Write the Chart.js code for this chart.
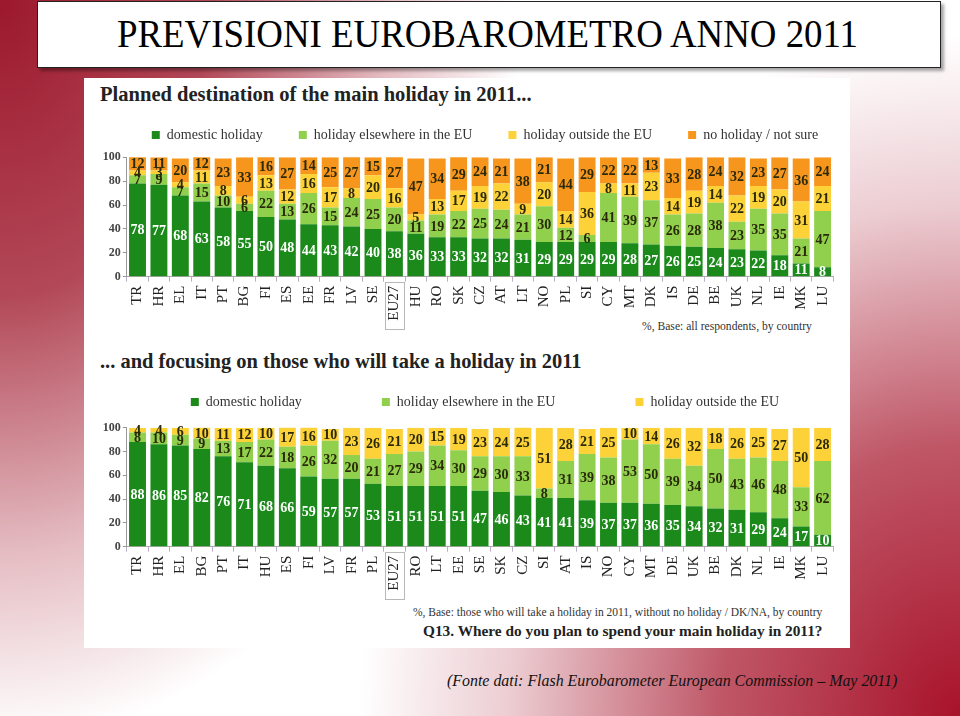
<!DOCTYPE html>
<html><head><meta charset="utf-8">
<script src="https://cdn.jsdelivr.net/npm/chart.js@4.4.0/dist/chart.umd.min.js"></script>
<style>
html,body{margin:0;padding:0;}
body{width:960px;height:716px;position:relative;overflow:hidden;
 background:
  radial-gradient(ellipse 520px 740px at 0 0, rgba(156,24,44,1) 0%, rgba(165,40,58,0.85) 40%, rgba(190,90,105,0.4) 75%, rgba(255,255,255,0) 100%),
  radial-gradient(ellipse 600px 680px at 100% 100%, rgba(168,18,42,1) 0%, rgba(175,45,65,0.8) 40%, rgba(200,110,125,0.35) 75%, rgba(255,255,255,0) 100%),
  #ffffff;}
#titlebox{position:absolute;left:37px;top:1px;width:902px;height:65px;background:#fff;border:1px solid #222;box-shadow:3px 3px 3px rgba(0,0,0,0.35);}
#panel{position:absolute;left:84px;top:78px;width:766px;height:570px;background:#fff;}
.t{position:absolute;white-space:nowrap;line-height:1;font-family:'Liberation Serif',serif;color:#222;}
canvas{position:absolute;}
</style></head>
<body>
<div id="titlebox"></div>
<div class="t" id="mainTitle" style="left:117px;top:13px;font-size:41px;color:#000;transform-origin:0 0;">PREVISIONI EUROBAROMETRO ANNO 2011</div>
<div id="panel"></div>
<div class="t fit" data-x="100" data-yc="96" data-w="432" data-s="19" style="font-weight:bold;">Planned destination of the main holiday in 2011...</div>
<div class="t fit" data-x="642" data-yc="328" data-w="170" data-s="12" style="color:#333;">%, Base: all respondents, by country</div>
<div class="t fit" data-x="100" data-yc="362" data-w="482" data-s="19" style="font-weight:bold;">... and focusing on those who will take a holiday in 2011</div>
<div class="t fit" data-x="413" data-yc="613" data-w="410" data-s="12" style="color:#333;">%, Base: those who will take a holiday in 2011, without no holiday / DK/NA, by country</div>
<div class="t fit" data-x="423" data-yc="632" data-w="400" data-s="12" style="font-weight:bold;">Q13. Where do you plan to spend your main holiday in 2011?</div>
<div class="t fit" data-x="447" data-yc="682" data-w="451" data-s="17" style="font-style:italic;color:#111;">(Fonte dati: Flash Eurobarometer European Commission – May 2011)</div>
<canvas id="c1" width="776" height="250" style="left:97px;top:92px;"></canvas>
<canvas id="c2" width="776" height="305" style="left:97px;top:315px;"></canvas>
<script>
// ---- data: chart 1 (all respondents) ----
const countries1 = ['TR','HR','EL','IT','PT','BG','FI','ES','EE','FR','LV','SE','EU27','HU','RO','SK','CZ','AT','LT','NO','PL','SI','CY','MT','DK','IS','DE','BE','UK','NL','IE','MK','LU'];
const domestic1  = [78,77,68,63,58,55,50,48,44,43,42,40,38,36,33,33,32,32,31,29,29,29,29,28,27,26,25,24,23,22,18,11,8];
const elsewhere1 = [7,9,7,15,10,6,22,13,26,15,24,25,20,11,19,22,25,24,21,30,12,6,41,39,37,26,28,38,23,35,35,21,47];
const outside1   = [4,3,4,11,8,6,13,12,16,17,8,20,16,5,13,17,19,22,9,20,14,36,8,11,23,14,19,14,22,19,20,31,21];
const noHoliday1 = [12,11,20,12,23,33,16,27,14,25,27,15,27,47,34,29,24,21,38,21,44,29,22,22,13,33,28,24,32,23,27,36,24];
// ---- data: chart 2 (those taking a holiday) ----
const countries2 = ['TR','HR','EL','BG','PT','IT','HU','ES','FI','LV','FR','PL','EU27','RO','LT','EE','SE','SK','CZ','SI','AT','IS','NO','CY','MT','DE','UK','BE','DK','NL','IE','MK','LU'];
const domestic2  = [88,86,85,82,76,71,68,66,59,57,57,53,51,51,51,51,47,46,43,41,41,39,37,37,36,35,34,32,31,29,24,17,10];
const elsewhere2 = [8,10,9,9,13,17,22,18,26,32,20,21,27,29,34,30,29,30,33,8,31,39,38,53,50,39,34,50,43,46,48,33,62];
const outside2   = [4,4,6,10,11,12,10,17,16,10,23,26,21,20,15,19,23,24,25,51,28,21,25,10,14,26,32,18,26,25,27,50,28];
const seriesNames = ['domestic holiday','holiday elsewhere in the EU','holiday outside the EU','no holiday / not sure'];
const yTicks = [0,20,40,60,80,100];

// ---- styles ----
const COLORS = ['#1b8a1b','#90d04c','#fdd238','#f7961c'];
const TEXTCOL = ['#ffffff','#2a2a0a','#2a2a0a','#2a2a0a'];
const SERIF = "'Liberation Serif', serif";

// fit html texts
document.querySelectorAll('.fit').forEach(el=>{
  const s0 = +el.dataset.s; el.style.fontSize = s0+'px';
  const w0 = el.getBoundingClientRect().width;
  const s = s0 * (+el.dataset.w) / w0;
  el.style.fontSize = s+'px';
  el.style.left = el.dataset.x+'px';
  el.style.top = (+el.dataset.yc - 0.56*s)+'px';
});
(function(){
  const el = document.getElementById('mainTitle');
  const w = el.getBoundingClientRect().width;
  el.style.transform = 'scaleX(' + (741/w) + ')';
})();

const valueLabels = {
  id:'valueLabels',
  afterDatasetsDraw(chart){
    const ctx = chart.ctx;
    ctx.save();
    ctx.font = "bold 14px " + SERIF;
    ctx.textAlign = 'center'; ctx.textBaseline = 'middle';
    chart.data.datasets.forEach((ds, di)=>{
      const meta = chart.getDatasetMeta(di);
      meta.data.forEach((bar, i)=>{
        const v = ds.data[i];
        if (!v) return;
        const top = Math.max(bar.y, chart.chartArea.top);
        ctx.fillStyle = ds.textColor;
        ctx.fillText(String(v), bar.x, (top + bar.base)/2 + 1);
      });
    });
    ctx.restore();
  }
};
const eu27Box = {
  id:'eu27Box',
  afterDraw(chart){
    const xs = chart.scales.x;
    const i = chart.data.labels.indexOf('EU27');
    if (i < 0) return;
    const x = xs.getPixelForValue(i);
    const ctx = chart.ctx;
    ctx.save();
    ctx.strokeStyle = '#b8b8b8'; ctx.lineWidth = 1;
    ctx.strokeRect(Math.round(x-9)+0.5, Math.round(xs.top+5)+0.5, 19, 47);
    ctx.restore();
  }
};
function legendHeight(h){
  return { id:'legendHeight', beforeLayout(chart){
    const lg = chart.legend;
    if (lg && !lg._patched){
      const f = lg.fit;
      lg.fit = function(){ f.call(this); this.height = h; };
      lg._patched = true;
    }
  }};
}

function makeChart(id, labels, data, legendPad, legendH, xAxisH){
  const datasets = data.map((d, k)=>({
    label: seriesNames[k], data: d, backgroundColor: COLORS[k], textColor: TEXTCOL[k],
    barPercentage: 0.79, categoryPercentage: 1.0, borderWidth: 0
  }));
  return new Chart(document.getElementById(id), {
    type:'bar',
    data:{ labels, datasets },
    options:{
      responsive:false, animation:false, devicePixelRatio:1,
      layout:{ padding:0 },
      plugins:{
        tooltip:{enabled:false},
        legend:{ display:true, position:'top',
          labels:{ boxWidth:8, boxHeight:8, padding:legendPad, color:'#333',
                   font:{family:SERIF, size:14} } }
      },
      scales:{
        x:{ stacked:true,
            grid:{ display:true, drawOnChartArea:false, drawTicks:true, tickLength:5, color:'#b9b0c8', offset:true },
            border:{ color:'#aaa' },
            ticks:{ autoSkip:false, minRotation:90, maxRotation:90, padding:4, color:'#222',
                    font:{family:SERIF, size:15} },
            afterFit(s){ s.height = xAxisH; } },
        y:{ stacked:true, min:0, max:100,
            afterBuildTicks(s){ s.ticks = yTicks.map(v=>({value:v})); },
            grid:{ display:true, drawOnChartArea:false, drawTicks:true, tickLength:4, color:'#999' },
            border:{ color:'#999' },
            ticks:{ padding:2, color:'#444', font:{family:SERIF, size:12, weight:'bold'} },
            afterFit(s){ s.width = 29.8; } },
        y2:{ position:'right', display:true, grid:{display:false}, border:{display:false},
             ticks:{display:false}, afterFit(s){ s.width = 39.7; } }
      }
    },
    plugins:[valueLabels, eu27Box, legendHeight(legendH)]
  });
}

makeChart('c1', countries1, [domestic1, elsewhere1, outside1, noHoliday1], 36, 65.3, 65.3);
makeChart('c2', countries2, [domestic2, elsewhere2, outside2], 80, 112.7, 73.3);
</script>
</body></html>
